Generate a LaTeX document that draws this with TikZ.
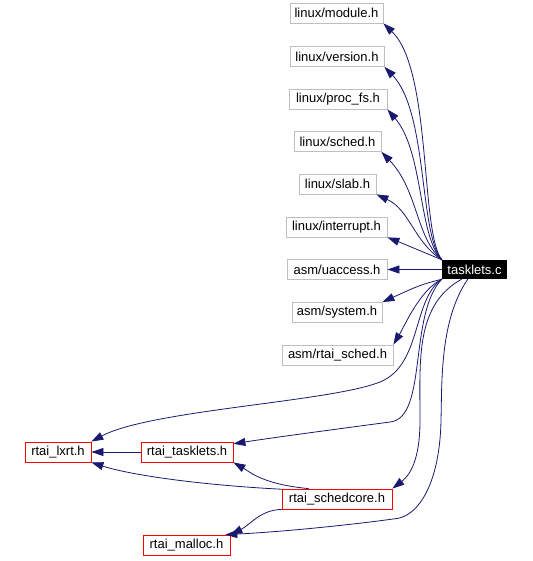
\documentclass[tikz,border=0pt]{standalone}
\usepackage{fontspec}
\setmainfont{Liberation Sans}
\usepackage{tikz}
\usetikzlibrary{arrows.meta}
\usepackage{xcolor}
\definecolor{edgeblue}{HTML}{191970}
\definecolor{boxgray}{HTML}{BFBFBF}

\begin{document}
\begin{tikzpicture}[x=1pt,y=-1pt,font=\fontsize{13}{15}\selectfont,line cap=round,
  hdr/.style={draw=boxgray,line width=0.8pt,inner sep=0pt,minimum height=20pt},
  rhdr/.style={draw=red,line width=0.8pt,inner sep=0pt,minimum height=20pt},
  src/.style={fill=black,text=white,inner sep=0pt,minimum height=19pt},
  dep/.style={draw=edgeblue,line width=0.8pt,-{Triangle[length=12pt,width=8pt]}}]
\useasboundingbox (0,0) rectangle (532,561);
% files
\node[src,minimum width=65pt] (tasklets) at (474.5,269.5) {tasklets.c};
\node[hdr,minimum width=93pt] (module) at (336.5,13) {linux/module.h};
\node[hdr,minimum width=94pt] (version) at (337,56.5) {linux/version.h};
\node[hdr,minimum width=98pt] (procfs) at (338,99) {linux/proc\_fs.h};
\node[hdr,minimum width=87pt] (sched) at (337.5,141.5) {linux/sched.h};
\node[hdr,minimum width=77pt] (slab) at (337.5,184) {linux/slab.h};
\node[hdr,minimum width=101pt] (interrupt) at (336.5,227) {linux/interrupt.h};
\node[hdr,minimum width=100pt] (uaccess) at (337,269.5) {asm/uaccess.h};
\node[hdr,minimum width=90pt] (system) at (337,312.5) {asm/system.h};
\node[hdr,minimum width=111pt] (rtaisched) at (337.5,355) {asm/rtai\_sched.h};
\node[rhdr,minimum width=66pt] (lxrt) at (58,452) {rtai\_lxrt.h};
\node[rhdr,minimum width=92pt] (rtasklets) at (187,452) {rtai\_tasklets.h};
\node[rhdr,minimum width=110pt] (schedcore) at (337,499) {rtai\_schedcore.h};
\node[rhdr,minimum width=87pt] (malloc) at (186.5,545) {rtai\_malloc.h};
% includes of tasklets.c
\draw[dep] (tasklets.north west) .. controls (420,232) and (432,70) .. (module.south east);
\draw[dep] (tasklets.north west) .. controls (419,234) and (428,112) .. (version.south east);
\draw[dep] (tasklets.north west) .. controls (418,236) and (424,152) .. (procfs.south east);
\draw[dep] (tasklets.north west) .. controls (416,238) and (418,190) .. (sched.south east);
\draw[dep] (tasklets.north west) .. controls (414,242) and (410,210) .. (slab.south east);
\draw[dep] (tasklets.north west) .. controls (420,250) .. (interrupt.south east);
\draw[dep] (tasklets.west) -- (uaccess.east);
\draw[dep] (tasklets.south west) .. controls (420,285) .. (system.north east);
\draw[dep] (tasklets.south west) .. controls (420,290) and (405,325) .. (rtaisched.north east);
\draw[dep] (tasklets.south west) .. controls (412,300) and (422,365) .. (380,382)
  .. controls (330,402) and (150,410) .. (lxrt.north east);
\draw[dep] (tasklets.south west) .. controls (408,315) and (428,418) .. (390,422)
  .. controls (330,430) and (270,438) .. (rtasklets.10);
\draw[dep] (tasklets.-143) .. controls (415,305) and (420,360) .. (420,420)
  .. controls (420,460) and (410,475) .. (schedcore.north east);
\draw[dep] (tasklets.-125) .. controls (440,320) and (442,380) .. (441,420)
  .. controls (440,480) and (420,518) .. (393,519)
  .. controls (350,525) and (280,532) .. (malloc.15);
% includes between rtai headers
\draw[dep] (rtasklets.west) -- (lxrt.east);
\draw[dep] (schedcore.170) .. controls (200,485) and (130,475) .. (lxrt.south east);
\draw[dep] (schedcore.160) .. controls (262,484) and (250,472) .. (rtasklets.south east);
\draw[dep] (schedcore.south west) .. controls (260,510) and (250,525) .. (malloc.north east);
\end{tikzpicture}
\end{document}
